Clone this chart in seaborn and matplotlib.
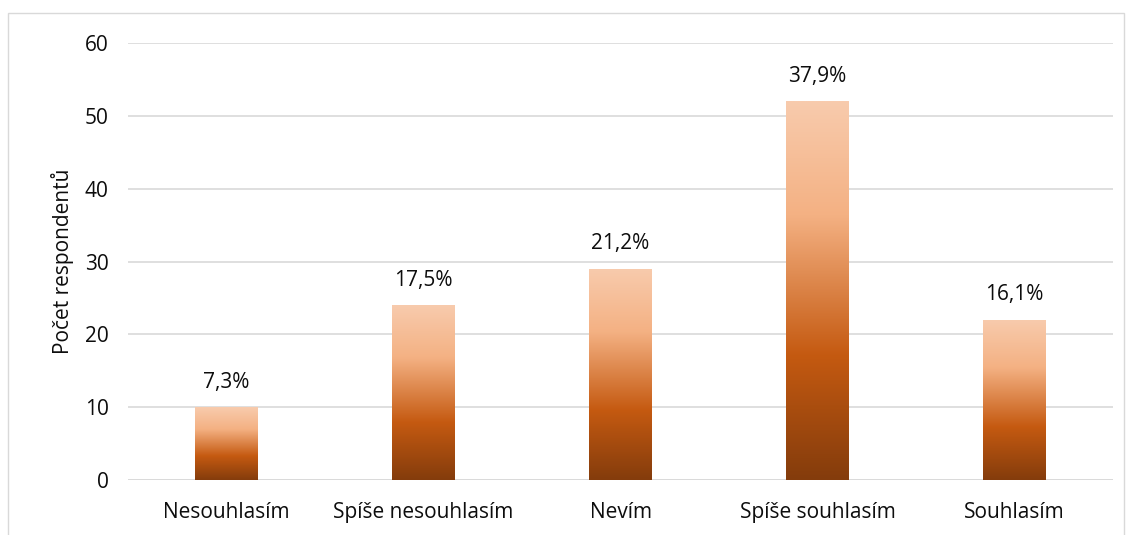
import numpy as np
import pandas as pd
import matplotlib
matplotlib.use('Agg')
import matplotlib.pyplot as plt
import matplotlib.patches as mpatches
from matplotlib.colors import LinearSegmentedColormap
import seaborn as sns

# data
categories = ['Nesouhlasím', 'Spíše nesouhlasím', 'Nevím', 'Spíše souhlasím', 'Souhlasím']
counts = [10, 24, 29, 52, 22]
pct_labels = ['7,3%', '17,5%', '21,2%', '37,9%', '16,1%']

df = pd.DataFrame({'kategorie': categories, 'pocet': counts})

sns.set_style('white')
plt.rcParams['font.family'] = ['Open Sans', 'DejaVu Sans']
fs = 15
tc = '#0d0d0d'

fig = plt.figure(figsize=(11.32, 5.35), dpi=100)
ax = fig.add_axes([128/1132, 1 - 480/535, (1113-128)/1132, (480-43)/535])

sns.barplot(data=df, x='kategorie', y='pocet', ax=ax, width=0.315, color='white')

# vertical gradient (dark bottom -> light top)
grad = LinearSegmentedColormap.from_list('grad', [
    (0.0, '#843C0C'), (0.33, '#C55A11'), (0.7, '#F4B183'), (1.0, '#F8CBAD')])
g = np.linspace(0, 1, 256).reshape(-1, 1)
for p in ax.patches:
    x0, y0 = p.get_x(), p.get_y()
    w, h = p.get_width(), p.get_height()
    im = ax.imshow(g, cmap=grad, origin='lower', aspect='auto',
                   extent=[x0, x0 + w, y0, y0 + h], zorder=2)
    im.set_clip_path(p)
    p.set_edgecolor('none')

for i, p in enumerate(ax.patches):
    ax.annotate(pct_labels[i], (p.get_x() + p.get_width() / 2, p.get_height()),
                xytext=(0, 18), textcoords='offset points',
                ha='center', va='center', fontsize=fs, color=tc)

ax.set_xlim(-0.5, 4.5)
ax.set_ylim(0, 60)
ax.set_yticks(range(0, 61, 10))
ax.yaxis.grid(True, color='#D9D9D9', linewidth=1.2)
ax.set_axisbelow(True)
for s in ax.spines:
    ax.spines[s].set_visible(False)
ax.axhline(0, color='#D9D9D9', linewidth=1.2, zorder=1)
ax.tick_params(axis='both', length=0, labelsize=fs, colors=tc)
ax.tick_params(axis='y', pad=14)
ax.tick_params(axis='x', pad=16)
ax.set_xlabel('')
ax.set_ylabel('Počet respondentů', fontsize=fs, color=tc, labelpad=8)

# outer chart border
fig.patches.append(mpatches.Rectangle((8/1132, -0.05), (1124-8)/1132, 1.05 - 13/535,
                                      transform=fig.transFigure, fill=False,
                                      edgecolor='#D9D9D9', linewidth=1))

plt.savefig('out.png', dpi=100)
